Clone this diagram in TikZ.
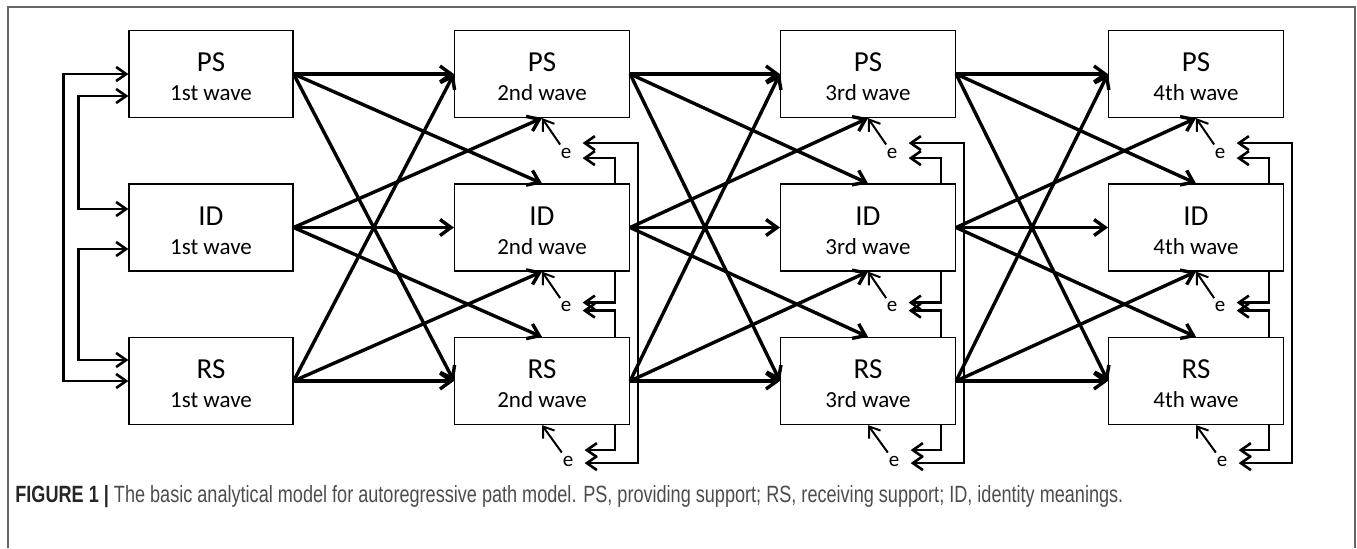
\documentclass[tikz,border=0pt]{standalone}
\usepackage{fontspec}
\usepackage{graphicx}
\setmainfont{Carlito}
\newfontfamily\capfont{Liberation Sans}
\usetikzlibrary{arrows.meta, backgrounds}

\newcommand{\wavelabel}[2]{{\fontsize{14.5pt}{14.5pt}\selectfont\rule{0pt}{12.5pt}#1}\\#2}

\begin{document}
\begin{tikzpicture}[x=0.5pt, y=-0.5pt, >={Straight Barb[length=5pt,width=7pt]},
  node distance=76.75pt,
  box/.style={draw, line width=0.6pt, fill=white, minimum width=87.5pt,
    minimum height=43.5pt, inner sep=0pt, align=center,
    font=\fontsize{11.5pt}{14.5pt}\selectfont},
  first/.style={box, minimum width=82pt},
  err/.style={font=\fontsize{10.5pt}{10.5pt}\selectfont, inner sep=1.5pt},
  reg/.style={-{Straight Barb[length=5.5pt,width=8pt]}, line width=1.7pt},
  earr/.style={->, line width=1pt},
  corr/.style={<->, line width=1.3pt},
  ecorr/.style={corr, shorten >=4pt, shorten <=4pt},
  frame/.style={draw=black!60, line width=0.6pt}]

\useasboundingbox (0,0) rectangle (1357,548);
\draw[frame] (8,548) |- (1355,7) -- (1355,548);

% the waves
  \node[first] (ps1) at (211,74) {\wavelabel{PS}{1st wave}};
  \node[first] (id1) [below of=ps1] {\wavelabel{ID}{1st wave}};
  \node[first] (rs1) [below of=id1] {\wavelabel{RS}{1st wave}};
  \node[box] (ps2) [node distance=165.5pt, right of=ps1] {\wavelabel{PS}{2nd wave}};
  \node[box] (id2) [below of=ps2] {\wavelabel{ID}{2nd wave}};
  \node[box] (rs2) [below of=id2] {\wavelabel{RS}{2nd wave}};
  \node[box] (ps3) [node distance=163pt, right of=ps2] {\wavelabel{PS}{3rd wave}};
  \node[box] (id3) [below of=ps3] {\wavelabel{ID}{3rd wave}};
  \node[box] (rs3) [below of=id3] {\wavelabel{RS}{3rd wave}};
  \node[box] (ps4) [node distance=164pt, right of=ps3] {\wavelabel{PS}{4th wave}};
  \node[box] (id4) [below of=ps4] {\wavelabel{ID}{4th wave}};
  \node[box] (rs4) [below of=id4] {\wavelabel{RS}{4th wave}};

% the error terms
  \node[err] (eps2) at ([shift={(24,35)}]ps2.south) {e};
  \node[err] (eid2) at ([shift={(24,35)}]id2.south) {e};
  \node[err] (ers2) at ([shift={(26,36)}]rs2.south) {e};
  \node[err] (eps3) at ([shift={(24,35)}]ps3.south) {e};
  \node[err] (eid3) at ([shift={(24,35)}]id3.south) {e};
  \node[err] (ers3) at ([shift={(26,36)}]rs3.south) {e};
  \node[err] (eps4) at ([shift={(24,35)}]ps4.south) {e};
  \node[err] (eid4) at ([shift={(24,35)}]id4.south) {e};
  \node[err] (ers4) at ([shift={(26,36)}]rs4.south) {e};

% the paths from wave to wave
  \path[reg] (ps1.east) edge (ps2.west) edge (id2.north) edge (rs2.west)
             (id1.east) edge (ps2.south) edge (id2.west) edge (rs2.north)
             (rs1.east) edge (ps2.west) edge (id2.south) edge (rs2.west);
  \path[reg] (ps2.east) edge (ps3.west) edge (id3.north) edge (rs3.west)
             (id2.east) edge (ps3.south) edge (id3.west) edge (rs3.north)
             (rs2.east) edge (ps3.west) edge (id3.south) edge (rs3.west);
  \path[reg] (ps3.east) edge (ps4.west) edge (id4.north) edge (rs4.west)
             (id3.east) edge (ps4.south) edge (id4.west) edge (rs4.north)
             (rs3.east) edge (ps4.west) edge (id4.south) edge (rs4.west);

  \path[earr] (eps2) edge (ps2.south) (eid2) edge (id2.south) (ers2) edge (rs2.south)
              (eps3) edge (ps3.south) (eid3) edge (id3.south) (ers3) edge (rs3.south)
              (eps4) edge (ps4.south) (eid4) edge (id4.south) (ers4) edge (rs4.south);

% correlations in the 1st wave
  \draw[corr] (ps1.west) -| ([xshift=-32.5pt]id1.west) |- (rs1.west);
  \draw[corr] ([yshift=-11pt]ps1.west) -| ([xshift=-25pt]ps1.south west) |- ([yshift=9.25pt]id1.west);
  \draw[corr] ([yshift=-10.75pt]id1.west) -| ([xshift=-25pt]id1.south west) |- ([yshift=10.5pt]rs1.west);

% correlated errors, behind the boxes
\begin{pgfonlayer}{background}
  \draw[ecorr] ([yshift=5pt]eps2.east) -| ([xshift=4pt]id2.east) |- ([yshift=-1pt]ers2.east);
  \draw[ecorr] ([yshift=-2.5pt]eps2.east) -| ([xshift=-7.5pt]id2.east) |- ([yshift=2pt]eid2.east);
  \draw[ecorr] ([yshift=-2pt]eid2.east) -| ([xshift=-7.5pt]rs2.east) |- ([yshift=5.5pt]ers2.east);
  \draw[ecorr] ([yshift=5pt]eps3.east) -| ([xshift=4pt]id3.east) |- ([yshift=-1pt]ers3.east);
  \draw[ecorr] ([yshift=-2.5pt]eps3.east) -| ([xshift=-7.5pt]id3.east) |- ([yshift=2pt]eid3.east);
  \draw[ecorr] ([yshift=-2pt]eid3.east) -| ([xshift=-7.5pt]rs3.east) |- ([yshift=5.5pt]ers3.east);
  \draw[ecorr] ([yshift=5pt]eps4.east) -| ([xshift=4pt]id4.east) |- ([yshift=-1pt]ers4.east);
  \draw[ecorr] ([yshift=-2.5pt]eps4.east) -| ([xshift=-7.5pt]id4.east) |- ([yshift=2pt]eid4.east);
  \draw[ecorr] ([yshift=-2pt]eid4.east) -| ([xshift=-7.5pt]rs4.east) |- ([yshift=5.5pt]ers4.east);
\end{pgfonlayer}

% caption
  \node[anchor=west, inner sep=0pt, font=\capfont, text=black!70] (cap) at (15,497)
    {\resizebox{554pt}{!}{\scalebox{1}[1.3]{\textcolor{black!85}{\textbf{FIGURE 1 |}} The basic analytical model for autoregressive path model. PS, providing support; RS, receiving support; ID, identity meanings.}}};

\end{tikzpicture}
\end{document}
